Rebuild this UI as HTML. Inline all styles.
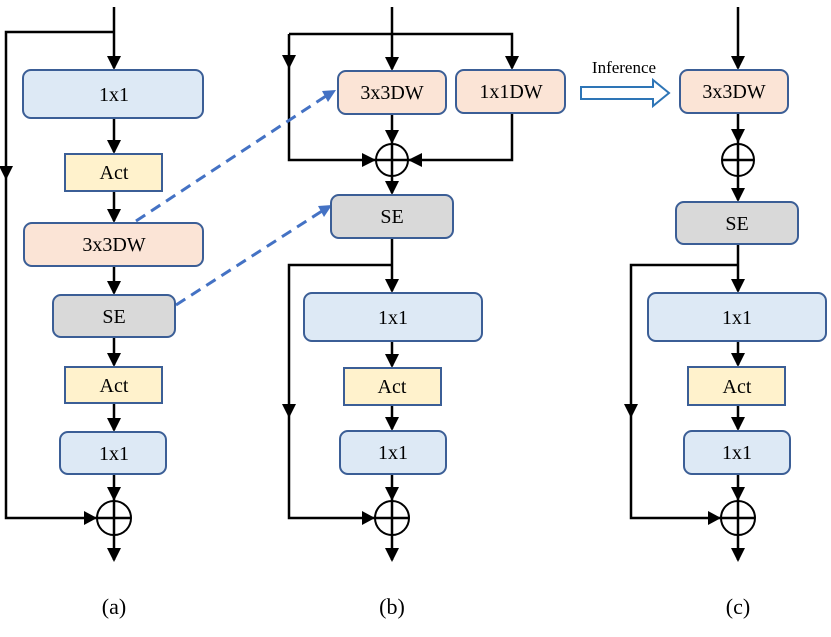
<!DOCTYPE html>
<html><head><meta charset="utf-8"><style>body{margin:0;background:#fff}svg{display:block}</style></head><body>
<svg width="831" height="637" viewBox="0 0 831 637" xmlns="http://www.w3.org/2000/svg" font-family="Liberation Serif, serif">
<style>
.l{stroke:#000;stroke-width:2.5;fill:none}
.bl{fill:#dde9f5;stroke:#3b5e96;stroke-width:2}
.ye{fill:#fff2cc;stroke:#3b5e96;stroke-width:2}
.or{fill:#fbe4d6;stroke:#3b5e96;stroke-width:2}
.gr{fill:#d9d9d9;stroke:#3b5e96;stroke-width:2}
.c{fill:none;stroke:#000;stroke-width:2}
text{font-size:20px;text-anchor:middle}
</style>
<!-- (a) -->
<path d="M114,7V68" class="l"/><path d="M107,56L114,70L121,56z"/>
<path class="l" d="M114,32H6V518H97"/><path d="M-1,166L6,180L13,166z"/><path d="M84,511L97,518L84,525z"/>
<path class="l" d="M114,118V152"/><path d="M107,140L114,154L121,140z"/>
<path class="l" d="M114,191V221"/><path d="M107,209L114,223L121,209z"/>
<path class="l" d="M114,266V293"/><path d="M107,281L114,295L121,281z"/>
<path class="l" d="M114,337V365"/><path d="M107,353L114,367L121,353z"/>
<path class="l" d="M114,403V430"/><path d="M107,418L114,432L121,418z"/>
<path class="l" d="M114,474V560"/><path d="M107,487L114,501L121,487z"/><path d="M107,548L114,562L121,548z"/>
<circle class="c" cx="114" cy="518" r="17"/><path class="l" d="M97,518H131"/>
<!-- (b) -->
<path class="l" d="M392,7V69"/><path d="M385,57L392,71L399,57z"/>
<path class="l" d="M289,34H512V68"/><path d="M505,56L512,70L519,56z"/>
<path class="l" d="M289,34V160H376"/><path d="M282,55L289,69L296,55z"/><path d="M362,153L376,160L362,167z"/>
<path class="l" d="M512,113V160H408"/><path d="M422,153L408,160L422,167z"/>
<path class="l" d="M376,160H408"/>
<path class="l" d="M392,114V193"/><path d="M385,130L392,144L399,130z"/><path d="M385,181L392,195L399,181z"/>
<circle class="c" cx="392" cy="160" r="16"/>
<path class="l" d="M392,238V291"/><path d="M385,279L392,293L399,279z"/>
<path class="l" d="M392,265H289V518H375"/><path d="M282,404L289,418L296,404z"/><path d="M362,511L375,518L362,525z"/>
<path class="l" d="M392,341V366"/><path d="M385,354L392,368L399,354z"/>
<path class="l" d="M392,405V429"/><path d="M385,417L392,431L399,417z"/>
<path class="l" d="M392,474V560"/><path d="M385,487L392,501L399,487z"/><path d="M385,548L392,562L399,548z"/>
<circle class="c" cx="392" cy="518" r="17"/><path class="l" d="M375,518H409"/>
<!-- (c) -->
<path class="l" d="M738,7V68"/><path d="M731,56L738,70L745,56z"/>
<path class="l" d="M738,113V200"/><path d="M731,129L738,143L745,129z"/><path d="M731,188L738,202L745,188z"/>
<circle class="c" cx="738" cy="160" r="16"/><path class="l" d="M722,160H754"/>
<path class="l" d="M738,244V291"/><path d="M731,279L738,293L745,279z"/>
<path class="l" d="M738,265H631V518H721"/><path d="M624,404L631,418L638,404z"/><path d="M708,511L721,518L708,525z"/>
<path class="l" d="M738,341V365"/><path d="M731,353L738,367L745,353z"/>
<path class="l" d="M738,405V429"/><path d="M731,417L738,431L745,417z"/>
<path class="l" d="M738,474V560"/><path d="M731,487L738,501L745,487z"/><path d="M731,548L738,562L745,548z"/>
<circle class="c" cx="738" cy="518" r="17"/><path class="l" d="M721,518H755"/>
<!-- dashed -->
<path d="M136,221L326,96" stroke="#4472c4" stroke-width="3" stroke-dasharray="11,7" fill="none"/><path d="M336,90L322,91L328,102z" fill="#4472c4"/>
<path d="M176,305L322,211" stroke="#4472c4" stroke-width="3" stroke-dasharray="11,7" fill="none"/><path d="M332,205L318,206L324,217z" fill="#4472c4"/>
<!-- boxes a -->
<rect class="bl" x="23" y="70" width="180" height="48" rx="8"/><text x="114" y="101">1x1</text>
<rect class="ye" x="65" y="154" width="97" height="37"/><text x="114" y="179">Act</text>
<rect class="or" x="24" y="223" width="179" height="43" rx="8"/><text x="114" y="251">3x3DW</text>
<rect class="gr" x="53" y="295" width="122" height="42" rx="8"/><text x="114" y="323">SE</text>
<rect class="ye" x="65" y="367" width="97" height="36"/><text x="114" y="392">Act</text>
<rect class="bl" x="60" y="432" width="106" height="42" rx="8"/><text x="114" y="460">1x1</text>
<!-- boxes b -->
<rect class="or" x="338" y="71" width="108" height="43" rx="8"/><text x="392" y="99">3x3DW</text>
<rect class="or" x="456" y="70" width="109" height="43" rx="8"/><text x="511" y="98">1x1DW</text>
<rect class="gr" x="331" y="195" width="122" height="43" rx="8"/><text x="392" y="223">SE</text>
<rect class="bl" x="304" y="293" width="178" height="48" rx="8"/><text x="393" y="324">1x1</text>
<rect class="ye" x="344" y="368" width="97" height="37"/><text x="392" y="393">Act</text>
<rect class="bl" x="340" y="431" width="106" height="43" rx="8"/><text x="393" y="459">1x1</text>
<!-- boxes c -->
<rect class="or" x="680" y="70" width="108" height="43" rx="8"/><text x="734" y="98">3x3DW</text>
<rect class="gr" x="676" y="202" width="122" height="42" rx="8"/><text x="737" y="230">SE</text>
<rect class="bl" x="648" y="293" width="178" height="48" rx="8"/><text x="737" y="324">1x1</text>
<rect class="ye" x="688" y="367" width="97" height="38"/><text x="737" y="393">Act</text>
<rect class="bl" x="684" y="431" width="106" height="43" rx="8"/><text x="737" y="459">1x1</text>
<!-- inference -->
<text x="624" y="73" style="font-size:17px">Inference</text>
<path d="M581,87H653V80L669,93L653,106V99H581z" fill="#fff" stroke="#2e75b6" stroke-width="2"/>
<!-- labels -->
<text x="114" y="614" style="font-size:22px">(a)</text>
<text x="392" y="614" style="font-size:22px">(b)</text>
<text x="738" y="614" style="font-size:22px">(c)</text>
</svg>
</body></html>
